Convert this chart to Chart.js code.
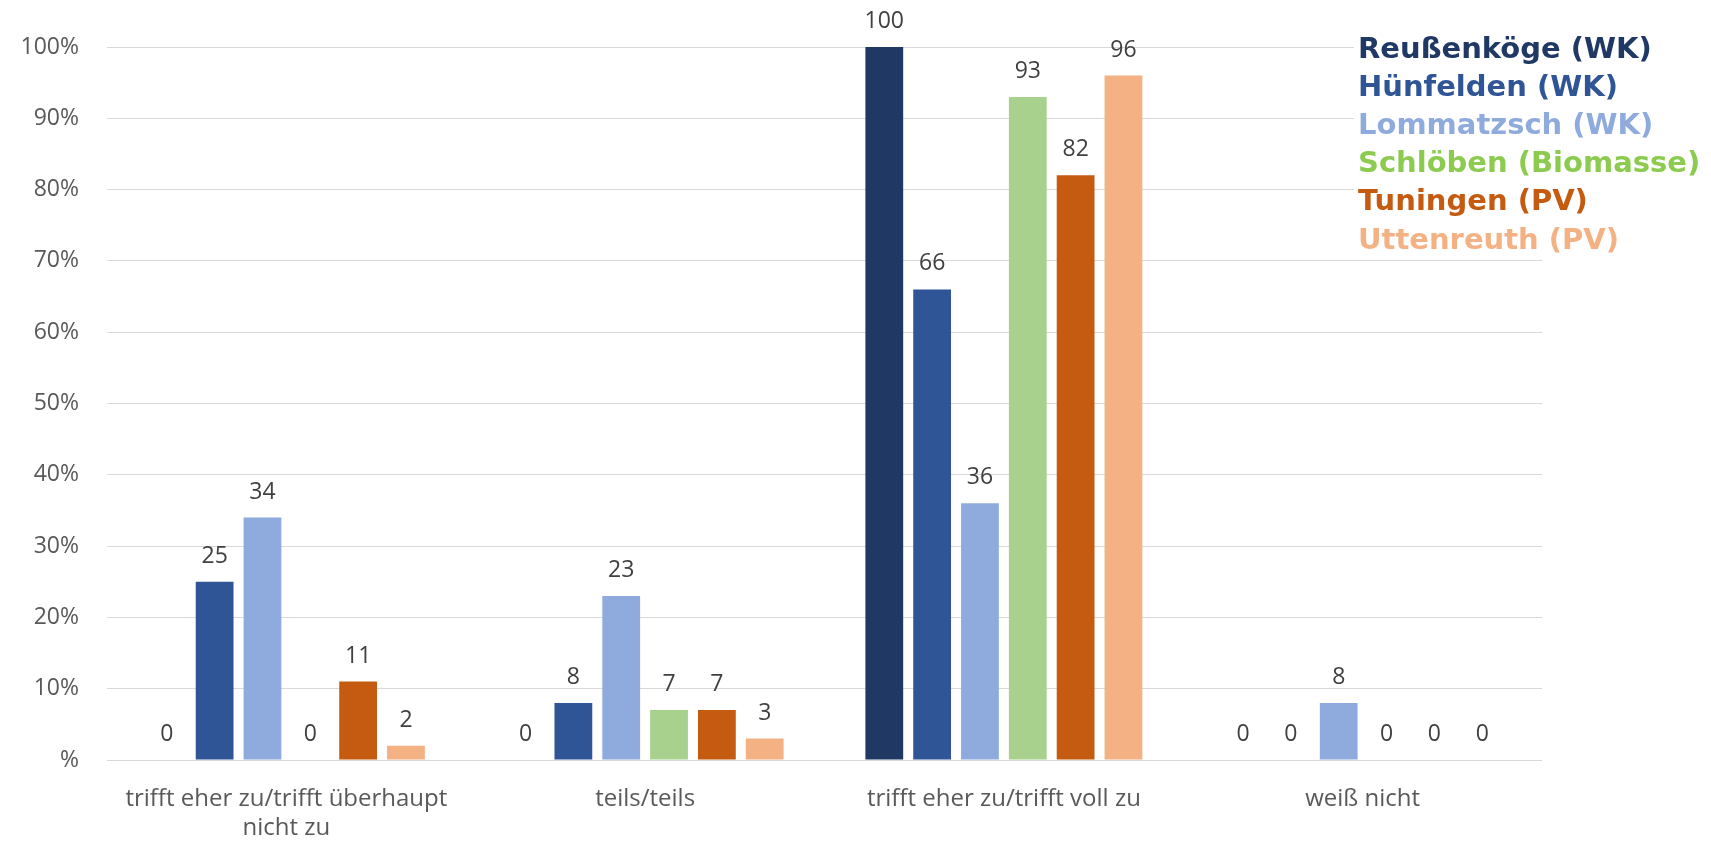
<!DOCTYPE html>
<html>
<head>
<meta charset="utf-8">
<script src="https://cdn.jsdelivr.net/npm/chart.js@4/dist/chart.umd.min.js"></script>
<style>
  html, body { margin: 0; padding: 0; background: #fff; }
  #wrap { width: 1711px; height: 845px; }
</style>
</head>
<body>
<div id="wrap"><canvas id="chart"></canvas></div>
<script>
const categories = [
  ['trifft eher zu/trifft überhaupt', 'nicht zu'],
  'teils/teils',
  'trifft eher zu/trifft voll zu',
  'weiß nicht'
];

const seriesNames = [
  'Reußenköge (WK)',
  'Hünfelden (WK)',
  'Lommatzsch (WK)',
  'Schlöben (Biomasse)',
  'Tuningen (PV)',
  'Uttenreuth (PV)'
];

const reussenkoege = [0, 0, 100, 0];
const huenfelden = [25, 8, 66, 0];
const lommatzsch = [34, 23, 36, 8];
const schloeben = [0, 7, 93, 0];
const tuningen = [11, 7, 82, 0];
const uttenreuth = [2, 3, 96, 0];

const yTicks = [0, 10, 20, 30, 40, 50, 60, 70, 80, 90, 100];

const barColors = ['#1F3864', '#2F5597', '#8FAADC', '#A9D18E', '#C55A11', '#F4B183'];
const legendColors = ['#1F3864', '#2F5597', '#8FAADC', '#8CCB50', '#C55A11', '#F4B183'];

const seriesValues = [reussenkoege, huenfelden, lommatzsch, schloeben, tuningen, uttenreuth];

// value labels above each bar
const valueLabels = {
  id: 'valueLabels',
  afterDatasetsDraw(chart) {
    const ctx = chart.ctx;
    ctx.save();
    ctx.font = '23px "Open Sans", sans-serif';
    ctx.fillStyle = '#404040';
    ctx.textAlign = 'center';
    ctx.textBaseline = 'alphabetic';
    chart.data.datasets.forEach((ds, i) => {
      chart.getDatasetMeta(i).data.forEach((bar, j) => {
        ctx.fillText(String(ds.data[j]), bar.x, bar.y - 19);
      });
    });
    ctx.restore();
  }
};

// coloured series names in the top right corner
const nameList = {
  id: 'nameList',
  afterDraw(chart) {
    const ctx = chart.ctx;
    ctx.save();
    ctx.fillStyle = '#fff';
    ctx.fillRect(1354, 20, 357, 232);
    ctx.font = 'bold 29px "DejaVu Sans", sans-serif';
    ctx.textAlign = 'left';
    ctx.textBaseline = 'middle';
    seriesNames.forEach((name, i) => {
      ctx.fillStyle = legendColors[i];
      ctx.fillText(name, 1358, 50 + i * 38.2);
    });
    ctx.restore();
  }
};

new Chart(document.getElementById('chart'), {
  type: 'bar',
  data: {
    labels: categories,
    datasets: seriesNames.map((name, i) => ({
      label: name,
      data: seriesValues[i],
      backgroundColor: barColors[i],
      categoryPercentage: 0.8,
      barPercentage: 0.79
    }))
  },
  options: {
    responsive: true,
    maintainAspectRatio: false,
    animation: false,
    layout: { padding: { top: 47, right: 169, left: 0, bottom: 0 } },
    plugins: {
      legend: { display: false },
      tooltip: { enabled: false }
    },
    scales: {
      x: {
        grid: { display: false },
        border: { display: false },
        ticks: {
          color: '#595959',
          font: { family: '"Open Sans", sans-serif', size: 24 },
          padding: 17,
          maxRotation: 0,
          autoSkip: false
        },
        afterFit(scale) { scale.height = 85; }
      },
      y: {
        min: 0,
        max: 100,
        afterBuildTicks(scale) { scale.ticks = yTicks.map(v => ({ value: v })); },
        grid: { color: '#D9D9D9', lineWidth: 1, drawTicks: false },
        border: { display: false },
        ticks: {
          color: '#595959',
          font: { family: '"Open Sans", sans-serif', size: 23 },
          padding: 28,
          callback: v => (v === 0 ? '%' : v + '%')
        },
        afterFit(scale) { scale.width = 107; }
      }
    }
  },
  plugins: [valueLabels, nameList]
});
</script>
</body>
</html>
